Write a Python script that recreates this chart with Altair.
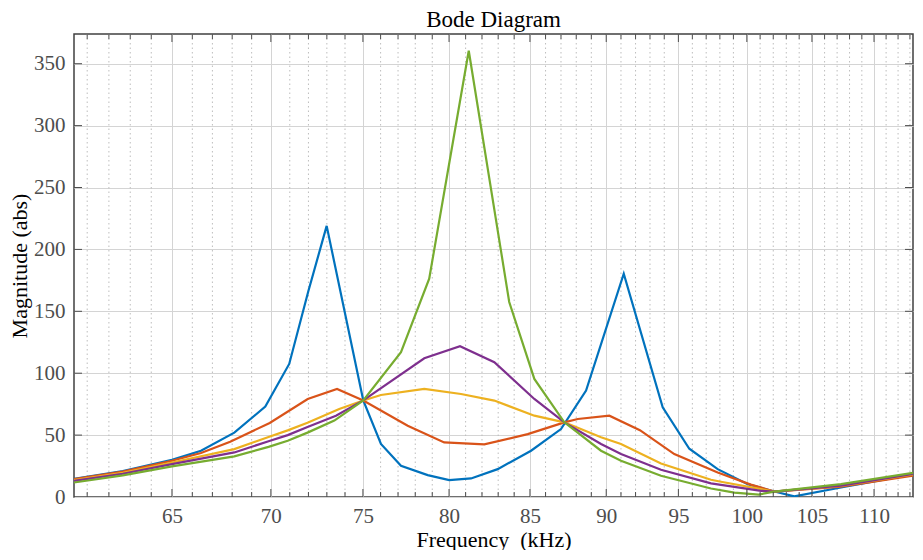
import altair as alt
import pandas as pd

# ---- data (frequency in kHz, magnitude abs) ----
blue_f = [60.40, 62.65, 65.00, 66.43, 68.11, 69.71, 70.97, 71.99, 72.99, 75.02, 76.02, 77.17, 78.73,
          80.01, 81.33, 82.97, 85.07, 87.00, 88.65, 91.19, 93.89, 95.78, 97.84, 100.07, 102.08,
          103.62, 107.31, 113.26]
blue_m = [14.6, 21.0, 30.0, 37.4, 52.0, 73.0, 107.5, 166.0, 219.0, 78.0, 42.8, 25.2, 17.7,
          13.6, 15.0, 22.5, 37.4, 54.9, 86.0, 180.4, 72.5, 39.0, 22.5, 10.4, 4.4,
          0.5, 7.7, 18.3]

orange_f = [60.40, 62.65, 65.00, 66.43, 67.90, 69.94, 71.96, 73.56, 75.02, 77.56, 79.71, 82.14,
            84.86, 87.22, 88.10, 90.21, 92.30, 94.71, 97.84, 100.30, 102.08, 107.31, 113.26]
orange_m = [14.4, 20.5, 29.3, 35.5, 44.7, 59.8, 79.2, 87.3, 78.0, 57.6, 44.1, 42.5,
            50.8, 60.3, 63.0, 65.7, 54.0, 34.7, 19.8, 10.0, 4.4, 8.3, 17.2]

yellow_f = [60.40, 62.65, 65.00, 68.11, 69.88, 70.89, 71.95, 73.68, 75.02, 76.02, 78.53, 80.72,
            82.76, 85.28, 87.22, 89.65, 91.00, 93.77, 97.35, 98.08, 101.07, 102.08, 107.31, 113.26]
yellow_m = [13.6, 19.5, 27.9, 38.7, 48.5, 53.8, 60.0, 71.1, 78.0, 82.4, 87.3, 83.2,
            77.9, 65.7, 60.3, 48.2, 42.8, 27.0, 13.9, 12.3, 6.3, 4.4, 9.0, 18.2]

purple_f = [60.40, 62.65, 65.00, 68.11, 69.88, 70.89, 71.95, 73.50, 75.02, 78.53, 80.66, 82.76,
            85.28, 87.22, 89.65, 91.00, 93.77, 97.35, 98.58, 101.07, 102.08, 107.31, 113.26]
purple_m = [13.0, 18.8, 26.6, 36.0, 45.0, 50.0, 56.5, 65.7, 78.0, 112.1, 121.8, 108.9,
            79.2, 60.3, 42.8, 34.7, 22.0, 11.0, 9.0, 5.0, 4.4, 9.2, 18.6]

green_f = [60.40, 62.65, 65.00, 68.11, 69.88, 70.89, 71.95, 73.41, 75.02, 77.17, 78.82, 81.19,
           83.69, 85.28, 87.22, 89.65, 91.00, 93.77, 97.35, 99.07, 100.90, 102.08, 107.31, 113.26]
green_m = [11.7, 17.5, 24.7, 32.8, 40.5, 45.5, 52.0, 61.7, 78.0, 117.0, 176.4, 360.5,
           157.5, 95.4, 60.3, 37.4, 29.3, 17.2, 6.9, 3.5, 2.0, 4.4, 10.4, 19.5]

series_names = ["s1", "s2", "s3", "s4", "s5"]
series_colors = ["#0072BD", "#D95319", "#EDB120", "#7E2F8E", "#77AC30"]

major_ticks = [65, 70, 75, 80, 85, 90, 95, 100, 105, 110]
minor_ticks = [f for f in range(61, 114) if f % 5 != 0]
y_ticks = [50, 100, 150, 200, 250, 300, 350]

x_domain = [60.4, 113.26]
y_domain = [0, 374]

# ---- build tables ----
rows = []
for name, fs, ms in zip(series_names,
                        [blue_f, orange_f, yellow_f, purple_f, green_f],
                        [blue_m, orange_m, yellow_m, purple_m, green_m]):
    for i, (f, m) in enumerate(zip(fs, ms)):
        rows.append({"series": name, "f": f, "m": m, "i": i})
df = pd.DataFrame(rows)
major_df = pd.DataFrame({"f": major_ticks})
minor_df = pd.DataFrame({"f": minor_ticks})
yt_df = pd.DataFrame({"m": y_ticks})

W, H = 839, 463
SERIF = "Liberation Serif"
TICK = "#4d4d4d"

xscale = alt.Scale(type="log", domain=x_domain, nice=False, zero=False)
yscale = alt.Scale(domain=y_domain, nice=False, zero=False)

x_axis = alt.Axis(values=major_ticks, grid=True, gridColor="#d4d4d4", gridWidth=1,
                  ticks=False, tickSize=0, domain=False, labelPadding=8,
                  title="Frequency\u00a0\u00a0(kHz)", titlePadding=3, labelFlush=False,
                  format="d")
y_axis = alt.Axis(values=[0] + y_ticks, grid=True, gridColor="#d4d4d4", gridWidth=1,
                  ticks=False, tickSize=0, domain=False, labelPadding=9,
                  title="Magnitude (abs)", titlePadding=2)

X = alt.X("f:Q", scale=xscale, axis=x_axis)
Y = alt.Y("m:Q", scale=yscale, axis=y_axis)

minor_grid = alt.Chart(minor_df).mark_rule(color="#bdbdbd", strokeWidth=1, strokeDash=[1.5, 3]).encode(
    x=X, y=alt.value(0), y2=alt.value(H))

lines = alt.Chart(df).mark_line(strokeWidth=2.2, clip=True).encode(
    x=X, y=Y,
    color=alt.Color("series:N", scale=alt.Scale(domain=series_names, range=series_colors), legend=None),
    order="i:Q")

maj_bot = alt.Chart(major_df).mark_rule(color=TICK, strokeWidth=1).encode(
    x=X, y=alt.value(H), y2=alt.value(H - 8))
maj_top = alt.Chart(major_df).mark_rule(color=TICK, strokeWidth=1).encode(
    x=X, y=alt.value(0), y2=alt.value(8))
min_bot = alt.Chart(minor_df).mark_rule(color=TICK, strokeWidth=1).encode(
    x=X, y=alt.value(H), y2=alt.value(H - 5))
min_top = alt.Chart(minor_df).mark_rule(color=TICK, strokeWidth=1).encode(
    x=X, y=alt.value(0), y2=alt.value(5))
y_left = alt.Chart(yt_df).mark_rule(color=TICK, strokeWidth=1).encode(
    y=Y, x=alt.value(0), x2=alt.value(8))
y_right = alt.Chart(yt_df).mark_rule(color=TICK, strokeWidth=1).encode(
    y=Y, x=alt.value(W - 8), x2=alt.value(W))

chart = alt.layer(minor_grid, lines, maj_bot, maj_top, min_bot, min_top, y_left, y_right).properties(
    width=W, height=H,
    title=alt.TitleParams("Bode Diagram", font=SERIF, fontSize=23, fontWeight="normal",
                          color="black", offset=0, dy=-2),
    padding={"left": 0, "top": 0, "right": 0, "bottom": 0},
).configure_view(
    stroke="#404040", strokeWidth=1.5
).configure_axis(
    labelFont=SERIF, titleFont=SERIF, labelFontSize=21, titleFontSize=22,
    labelColor="#4d4d4d", titleColor="black", titleFontWeight="normal"
)

chart.save("out.html", embed_options={"renderer": "svg", "actions": False})
